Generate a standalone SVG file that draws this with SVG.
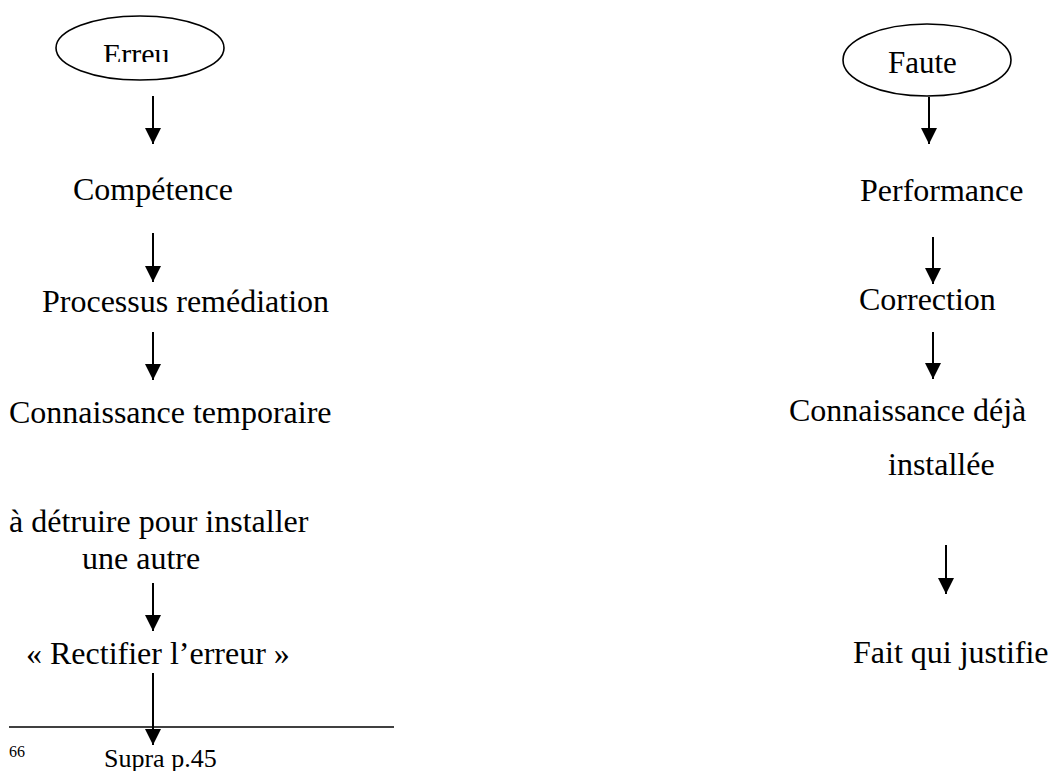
<svg xmlns="http://www.w3.org/2000/svg" width="1051" height="771" viewBox="0 0 1051 771">
<style>
text{font-family:"Liberation Serif","Times New Roman",serif;fill:#000}
.t{font-size:32px}
.e{fill:none;stroke:#000;stroke-width:1.6}
.c{stroke:#000;stroke-width:2;fill:none}
</style>
<defs>
<marker id="ah" markerUnits="userSpaceOnUse" markerWidth="16" markerHeight="16" refX="16" refY="8" orient="auto" viewBox="0 0 16 16">
<path d="M0,0 L16,8 L0,16 Z" fill="#000"/>
</marker>
<clipPath id="clipE"><rect x="0" y="0" width="400" height="62"/></clipPath>
</defs>
<rect width="1051" height="771" fill="#fff"/>
<g id="erreur">
<ellipse class="e" cx="140" cy="48" rx="84" ry="32"/>
<text x="103" y="64" font-size="30" clip-path="url(#clipE)">Erreu</text>
</g>
<g id="faute">
<ellipse class="e" cx="927" cy="60" rx="84" ry="36"/>
<text x="888" y="73" font-size="31">Faute</text>
</g>
<g id="competence"><text class="t" x="73" y="200">Compétence</text></g>
<g id="processus"><text class="t" x="42" y="312">Processus remédiation</text></g>
<g id="connaissance-temp"><text class="t" x="9" y="423">Connaissance temporaire</text></g>
<g id="detruire">
<text class="t" x="9" y="532">à détruire pour installer</text>
<text class="t" x="82" y="569">une autre</text>
</g>
<g id="rectifier"><text class="t" x="26" y="664">« Rectifier l’erreur »</text></g>
<g id="performance"><text class="t" x="860" y="201">Performance</text></g>
<g id="correction"><text class="t" x="859" y="310">Correction</text></g>
<g id="connaissance-deja">
<text class="t" x="789" y="421">Connaissance déjà</text>
<text class="t" x="888" y="475">installée</text>
</g>
<g id="fait"><text class="t" x="853" y="663">Fait qui justifie</text></g>
<g id="connectors">
<line class="c" x1="153" y1="96" x2="153" y2="144" marker-end="url(#ah)"/>
<line class="c" x1="153" y1="233" x2="153" y2="282" marker-end="url(#ah)"/>
<line class="c" x1="153" y1="332" x2="153" y2="380" marker-end="url(#ah)"/>
<line class="c" x1="153" y1="583" x2="153" y2="631" marker-end="url(#ah)"/>
<line class="c" x1="153" y1="673" x2="153" y2="745" marker-end="url(#ah)"/>
<line class="c" x1="929" y1="97" x2="929" y2="144" marker-end="url(#ah)"/>
<line class="c" x1="933" y1="237" x2="933" y2="284" marker-end="url(#ah)"/>
<line class="c" x1="933" y1="332" x2="933" y2="379" marker-end="url(#ah)"/>
<line class="c" x1="946" y1="545" x2="946" y2="594" marker-end="url(#ah)"/>
</g>
<g id="footnote">
<line x1="9" y1="727" x2="394" y2="727" stroke="#000" stroke-width="1.4"/>
<text x="9" y="757" font-size="16">66</text>
<text x="104" y="767" font-size="26">Supra p.45</text>
</g>
</svg>
